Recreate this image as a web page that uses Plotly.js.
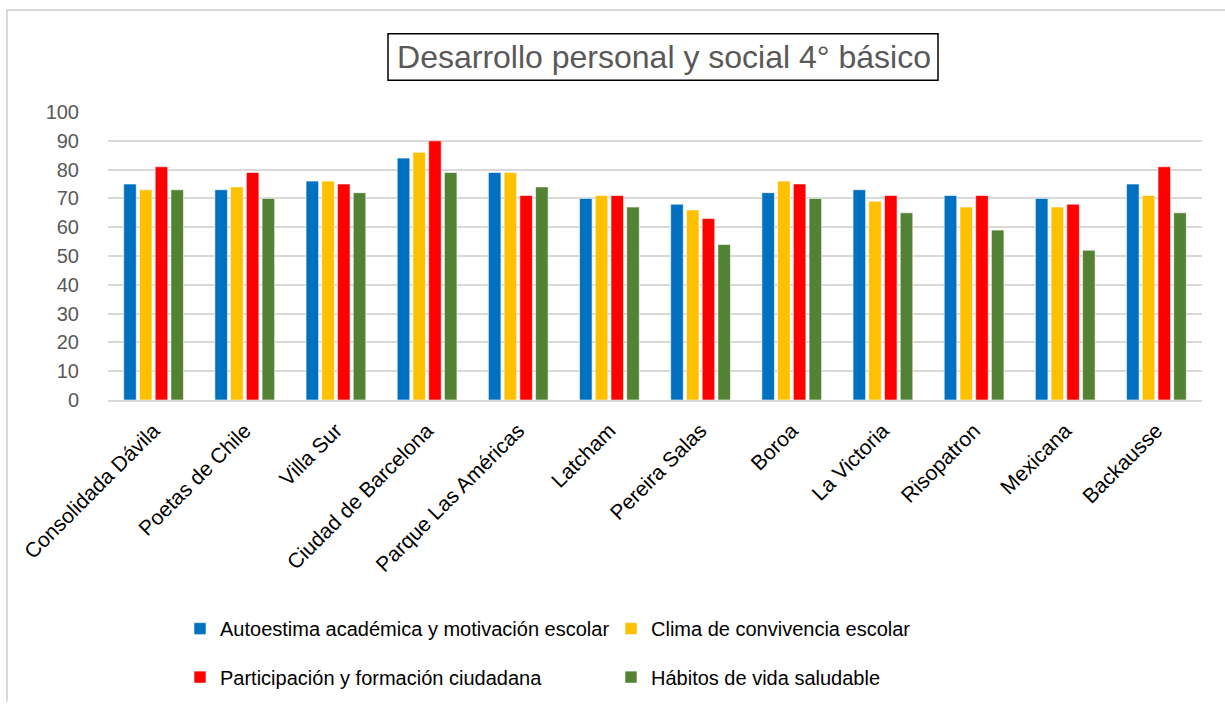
<!DOCTYPE html>
<html>
<head>
<meta charset="utf-8">
<script src="https://cdn.plot.ly/plotly-3.0.1.min.js"></script>
<style>html,body{margin:0;padding:0;background:#fff;}#chart{width:1225px;height:708px;}</style>
</head>
<body>
<div id="chart"></div>
<script>
var categories = ["Consolidada Dávila", "Poetas de Chile", "Villa Sur", "Ciudad de Barcelona", "Parque Las Américas", "Latcham", "Pereira Salas", "Boroa", "La Victoria", "Risopatron", "Mexicana", "Backausse"];
var seriesNames = ["Autoestima académica y motivación escolar", "Clima de convivencia escolar", "Participación y formación ciudadana", "Hábitos de vida saludable"];
var autoestima = [75, 73, 76, 84, 79, 70, 68, 72, 73, 71, 70, 75];
var clima = [73, 74, 76, 86, 79, 71, 66, 76, 69, 67, 67, 71];
var participacion = [81, 79, 75, 90, 71, 71, 63, 75, 71, 71, 68, 81];
var habitos = [73, 70, 72, 79, 74, 67, 54, 70, 65, 59, 52, 65];
var yTicks = [0, 10, 20, 30, 40, 50, 60, 70, 80, 90, 100];

var colors = ["#0070C0", "#FFC000", "#FF0000", "#548235"];
var values = [autoestima, clima, participacion, habitos];
var legends = ["legend", "legend", "legend2", "legend2"];

var traces = values.map(function (v, i) {
  return {
    type: "bar",
    name: seriesNames[i],
    x: categories,
    y: v,
    legend: legends[i],
    marker: { color: colors[i], line: { color: "rgba(255,255,255,0.6)", width: 1 } },
    hoverinfo: "x+y+name"
  };
});

var L = 108, R = 1202, T = 112, B = 403;
var pw = R - L, ph = B - T;
function px(x) { return (x - L) / pw; }
function py(y) { return (B - y) / ph; }

var legendFont = { family: "Liberation Sans, Arial, sans-serif", size: 20, color: "#000000" };

var layout = {
  width: 1225,
  height: 708,
  margin: { l: L, r: 1225 - R, t: T, b: 708 - B },
  paper_bgcolor: "#ffffff",
  plot_bgcolor: "#ffffff",
  font: { family: "Liberation Sans, Arial, sans-serif", color: "#000000" },
  title: {
    text: "Desarrollo personal y social 4° básico",
    font: { family: "Liberation Sans, Arial, sans-serif", size: 32, color: "#595959" },
    xref: "container", yref: "container",
    x: 664 / 1225, xanchor: "center",
    y: 1 - 57 / 708, yanchor: "middle"
  },
  barmode: "group",
  bargap: 0.31,
  bargroupgap: 0.2,
  xaxis: {
    type: "category",
    tickangle: -45,
    tickfont: { size: 21, color: "#000000" },
    showgrid: false,
    showline: true,
    linecolor: "#d9d9d9",
    linewidth: 2,
    ticks: "",
    ticklabelstandoff: 8,
    fixedrange: true
  },
  yaxis: {
    range: [0, 100],
    tickvals: yTicks,
    ticktext: yTicks.map(String),
    tickfont: { size: 20, color: "#595959" },
    gridcolor: "#d9d9d9",
    gridwidth: 2,
    zeroline: false,
    showline: false,
    ticks: "",
    ticklabelstandoff: 28,
    fixedrange: true
  },
  legend: {
    orientation: "h",
    x: px(180), xanchor: "left",
    y: py(634), yanchor: "middle",
    entrywidth: 386,
    entrywidthmode: "pixels",
    font: legendFont,
    bgcolor: "rgba(0,0,0,0)"
  },
  legend2: {
    orientation: "h",
    x: px(180), xanchor: "left",
    y: py(683), yanchor: "middle",
    entrywidth: 386,
    entrywidthmode: "pixels",
    font: legendFont,
    bgcolor: "rgba(0,0,0,0)"
  },
  shapes: [
    { type: "rect", xref: "paper", yref: "paper", x0: px(388), x1: px(938), y0: py(33), y1: py(80),
      line: { color: "#000000", width: 1.5 }, fillcolor: "rgba(0,0,0,0)", layer: "below" },
    { type: "line", xref: "paper", yref: "paper", x0: px(7), x1: px(7), y0: py(8), y1: py(708),
      line: { color: "#d9d9d9", width: 2 } },
    { type: "line", xref: "paper", yref: "paper", x0: px(6), x1: px(1225), y0: py(9), y1: py(9),
      line: { color: "#d9d9d9", width: 2 } }
  ],
  showlegend: true
};

Plotly.newPlot("chart", traces, layout, { displayModeBar: false, staticPlot: true });
</script>
</body>
</html>
